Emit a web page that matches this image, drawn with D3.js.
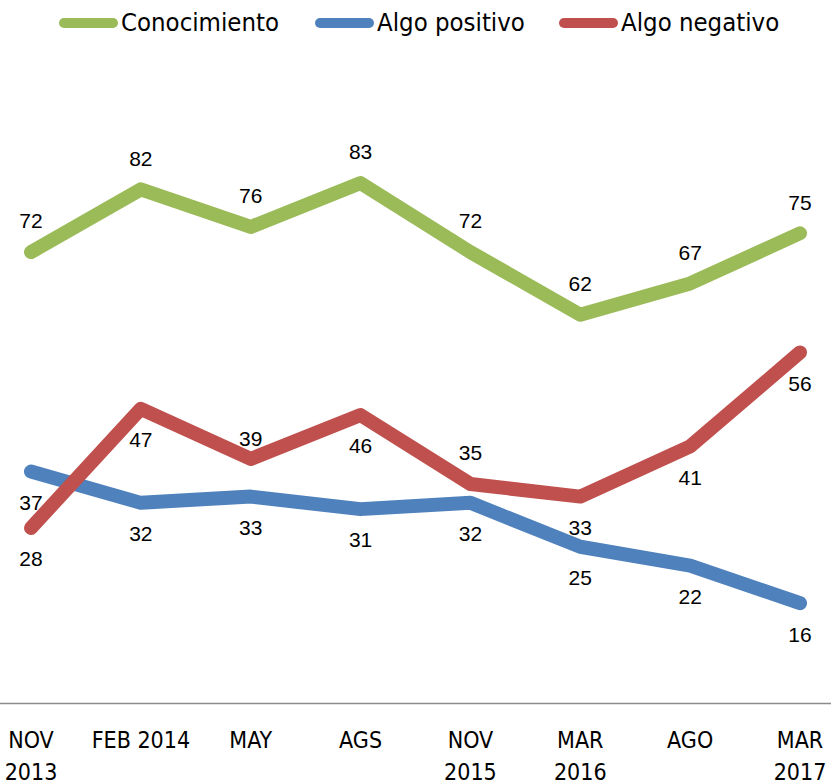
<!DOCTYPE html>
<html>
<head>
<meta charset="utf-8">
<title>Conocimiento</title>
<script src="https://cdn.jsdelivr.net/npm/d3@7"></script>
<style>
  body { margin: 0; background: #fff; }
  .lbl { font-family: "Liberation Sans", Arial, sans-serif; font-size: 21px; fill: #000; }
  .axis text, .legend text { font-family: "Liberation Sans Narrow", "DejaVu Sans Condensed", sans-serif; fill: #000; }
</style>
</head>
<body>
<div id="chart"></div>
<script>
var categories = ["NOV 2013", "FEB 2014", "MAY", "AGS", "NOV 2015", "MAR 2016", "AGO", "MAR 2017"];
var tickLines = [["NOV", "2013"], ["FEB 2014"], ["MAY"], ["AGS"], ["NOV", "2015"], ["MAR", "2016"], ["AGO"], ["MAR", "2017"]];
var conocimiento = [72, 82, 76, 83, 72, 62, 67, 75];
var algoPositivo = [37, 32, 33, 31, 32, 25, 22, 16];
var algoNegativo = [28, 47, 39, 46, 35, 33, 41, 56];

// label placement: negative = above the point, positive = below
var conocimientoSide = [-1, -1, -1, -1, -1, -1, -1, -1];
var positivoSide = [1, 1, 1, 1, 1, 1, 1, 1];
var negativoSide = [1, 1, -0.65, 1, -1, 1, 1, 1];

var series = [
  { name: "Conocimiento", values: conocimiento, side: conocimientoSide, color: "#9BBB59" },
  { name: "Algo positivo", values: algoPositivo, side: positivoSide, color: "#4F81BD" },
  { name: "Algo negativo", values: algoNegativo, side: negativoSide, color: "#C0504D" }
];

var width = 831, height = 784;

var svg = d3.select("#chart").append("svg")
    .attr("width", width)
    .attr("height", height);

var x = d3.scalePoint().domain(categories).range([31, 800]);
var y = d3.scaleLinear().domain([0, 100]).range([703.5, 76.5]);

// baseline
svg.append("line")
    .attr("x1", 0).attr("x2", width)
    .attr("y1", 703.5).attr("y2", 703.5)
    .attr("stroke", "#8c8c8c").attr("stroke-width", 1.5);

// category labels
var ax = svg.append("g").attr("class", "axis");
categories.forEach(function(c, i) {
  var t = ax.append("text")
      .attr("x", x(c))
      .attr("y", 748)
      .attr("text-anchor", "middle")
      .style("font-size", "23px");
  tickLines[i].forEach(function(s, j) {
    t.append("tspan").attr("x", x(c)).attr("dy", j ? 32 : 0).text(s);
  });
});

var line = d3.line()
    .x(function(d, i) { return x(categories[i]); })
    .y(function(d) { return y(d); });

series.forEach(function(s) {
  svg.append("path")
      .datum(s.values)
      .attr("d", line)
      .attr("fill", "none")
      .attr("stroke", s.color)
      .attr("stroke-width", 14)
      .attr("stroke-linecap", "round")
      .attr("stroke-linejoin", "round");
});

series.forEach(function(s) {
  svg.append("g").selectAll("text")
      .data(s.values)
      .enter().append("text")
      .attr("class", "lbl")
      .attr("x", function(d, i) { return x(categories[i]); })
      .attr("y", function(d, i) { return y(d) + s.side[i] * 31; })
      .attr("dy", "0.35em")
      .attr("text-anchor", "middle")
      .text(function(d) { return d; });
});

// legend
var legendX = [59, 315, 559];
var legend = svg.append("g").attr("class", "legend");
series.forEach(function(s, i) {
  legend.append("line")
      .attr("x1", legendX[i] + 5).attr("x2", legendX[i] + 54)
      .attr("y1", 23).attr("y2", 23)
      .attr("stroke", s.color)
      .attr("stroke-width", 10)
      .attr("stroke-linecap", "round");
  legend.append("text")
      .attr("x", legendX[i] + 62)
      .attr("y", 31)
      .style("font-size", "25.5px")
      .text(s.name);
});
</script>
</body>
</html>
